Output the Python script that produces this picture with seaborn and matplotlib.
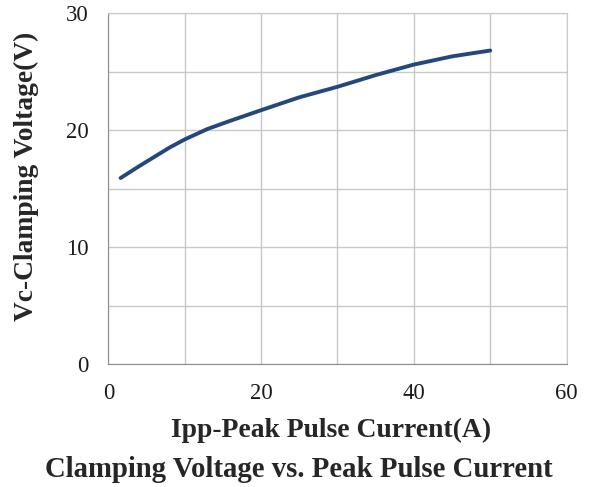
import matplotlib
matplotlib.use("Agg")
import matplotlib.pyplot as plt
import seaborn as sns
import pandas as pd

# Ipp (A) vs Vc (V)
ipp = [1.6, 4.0, 6.0, 8.0, 10.0, 13.0, 16.0, 20.0, 25.0, 30.0, 35.0, 40.0, 45.0, 50.0]
vc = [15.9, 16.9, 17.7, 18.5, 19.2, 20.1, 20.8, 21.7, 22.8, 23.7, 24.7, 25.6, 26.3, 26.8]

df = pd.DataFrame({"Ipp": ipp, "Vc": vc})

sns.set_style("white")
plt.rcParams["font.family"] = ["Liberation Serif", "DejaVu Serif"]

fig = plt.figure(figsize=(5.89, 4.87), dpi=100)
ax = fig.add_axes([0.184, 0.2526, 0.778, 0.7205])

sns.lineplot(data=df, x="Ipp", y="Vc", ax=ax, color="#23497c", linewidth=2.8)

ax.set_xlim(0, 60)
ax.set_ylim(0, 30)
ax.set_xticks(range(0, 61, 10))
ax.set_xticklabels(["0", "", "20", "", "40", "", "60"])
ax.set_yticks([0, 10, 20, 30])
ax.set_yticks([5, 15, 25], minor=True)
ax.grid(True, which="both", color="#c8c8c8", linewidth=1.0)
ax.tick_params(axis="both", which="major", length=6, color="#8c8c8c",
               labelsize=16.3, labelcolor="#1a1a1a", pad=8)
ax.tick_params(axis="y", which="minor", length=0)
for s in ax.spines.values():
    s.set_color("#c8c8c8")
ax.spines["left"].set_color("#8c8c8c")
ax.spines["bottom"].set_color("#8c8c8c")
ax.set_xlabel("")
ax.set_ylabel("")

# labels placed in pixel coordinates (origin bottom-left), as in the original
fig.text(331.5, 487 - 437, "Ipp-Peak Pulse Current(A)", transform=None,
         ha="center", va="baseline", fontsize=19.9, fontweight="bold")
fig.text(298.5, 487 - 477, "Clamping Voltage vs. Peak Pulse Current", transform=None,
         ha="center", va="baseline", fontsize=20.7, fontweight="bold")
fig.text(26, 487 - 176, "Vc-Clamping Voltage(V)", transform=None,
         ha="center", va="center", rotation=90, fontsize=19.8, fontweight="bold")

fig.savefig("out.png", dpi=100)
